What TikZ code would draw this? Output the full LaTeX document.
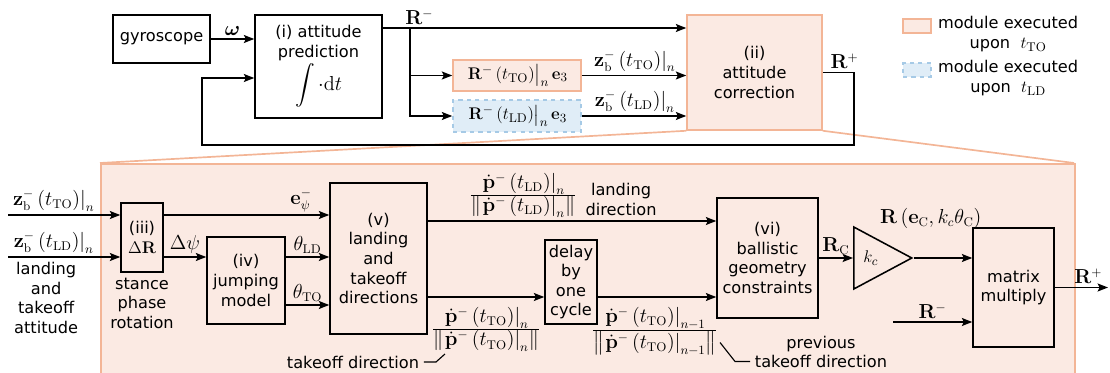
\documentclass[tikz,border=0pt]{standalone}
\usepackage{amsmath}
\usepackage{amssymb}
\usepackage[no-math]{fontspec}
\setmainfont{DejaVu Sans}
\usepackage{xcolor}
\usepackage{tikz}
\usetikzlibrary{arrows.meta,calc,positioning,shapes.geometric}

\definecolor{tofill}{HTML}{FBEAE3}
\definecolor{toline}{HTML}{F3B596}
\definecolor{ldfill}{HTML}{E0EDF7}
\definecolor{ldline}{HTML}{A6CAE6}

\newcommand{\evn}[2]{\left.#1\right|_{#2}}
\newcommand{\pdir}[2]{\frac{\textstyle\evn{\dot{\mathbf{p}}^{-}\left(t_{\mathrm{#1}}\right)}{#2}}{\textstyle\left\|\evn{\dot{\mathbf{p}}^{-}\left(t_{\mathrm{#1}}\right)}{#2}\right\|}}
\newcommand{\zbn}[1]{\evn{\mathbf{z}_{\mathrm{b}}^{-}\left(t_{\mathrm{#1}}\right)}{n}}

\begin{document}
\begin{tikzpicture}[
    x=0.025cm, y=-0.025cm,
    font=\fontsize{11.5}{13.9}\selectfont,
    blk/.style={draw, line width=1.1pt, align=center, inner sep=1pt},
    tobox/.style={draw=toline, fill=tofill, line width=1.1pt, align=center, inner sep=1pt},
    ldbox/.style={draw=ldline, fill=ldfill, dashed, line width=1.1pt, align=center, inner sep=1pt},
    gainst/.style={draw, line width=1.1pt, isosceles triangle, isosceles triangle stretches,
        shape border rotate=0, minimum width=62*0.025cm, minimum height=58*0.025cm, inner sep=0pt},
    arr/.style={-{Stealth[length=2.6mm,width=2mm,inset=0.5mm]}, line width=1pt},
    mlab/.style={font=\fontsize{13.5}{16}\selectfont, inner sep=2pt},
    zoomline/.style={draw=toline, line width=1.2pt},
    hook/.style={line width=0.8pt},
    wh/.style 2 args={minimum width=#1*0.025cm, minimum height=#2*0.025cm}
]
\useasboundingbox (0,0) rectangle (1110,373);

\node[blk, wh={97}{48}] (gyro) at (161.5,39) {gyroscope};
\node[blk, wh={127}{103}] (pred) at (318.5,66.5) {(i) attitude\\prediction\\[1pt]{\fontsize{14}{16}\selectfont$\displaystyle\int\cdot\mathrm{d}t$}};
\node[tobox, wh={128}{31}, font=\fontsize{12.6}{15}\selectfont] (boxTO) at (517,75.5) {$\evn{\mathbf{R}^{-}\left(t_{\mathrm{TO}}\right)}{n}\mathbf{e}_3$};
\node[ldbox, wh={128}{32}, font=\fontsize{12.6}{15}\selectfont] (boxLD) at (517,116) {$\evn{\mathbf{R}^{-}\left(t_{\mathrm{LD}}\right)}{n}\mathbf{e}_3$};
\node[tobox, wh={135}{115}] (corr) at (754.5,72.5) {(ii)\\attitude\\correction};

\node[tobox, wh={28}{14}] (legTO) at (917,26) {};
\node[ldbox, wh={28}{14}] (legLD) at (917,70) {};
\node[anchor=north west, align=center, inner sep=0pt] (legTOtxt) at ([xshift=0.15cm,yshift=0.05cm]legTO.north east) {module executed\\upon \ {\fontsize{13}{14}\selectfont$t_{\mathrm{TO}}$}};
\node[anchor=north west, align=center, inner sep=0pt] (legLDtxt) at ([xshift=0.15cm,yshift=0.05cm]legLD.north east) {module executed\\upon \ {\fontsize{13}{14}\selectfont$t_{\mathrm{LD}}$}};

\draw[zoomline] (corr.south west) -- (100,163);
\draw[zoomline] (corr.south east) -- (1074,163);
\node[tobox, anchor=north west, wh={974}{225}] (big) at (100,163) {};

\draw[arr] (gyro.east) -- (gyro.east -| pred.west) node[midway, above, mlab] {$\boldsymbol{\omega}$};
\coordinate (split) at (410,28);
\draw[arr] (pred.east |- split) -- (split -| corr.west) node[pos=0.12, above, mlab] {$\mathbf{R}^{-}$};
\draw[arr] (split) |- (boxTO.west);
\draw[arr] (split) |- (boxLD.west);
\draw[arr] (boxTO.east) -- (boxTO.east -| corr.west) node[midway, above, mlab] {$\zbn{TO}$};
\draw[arr] (boxLD.east) -- (boxLD.east -| corr.west) node[midway, above, mlab] {$\zbn{LD}$};
\coordinate (fbin) at (202,78);
\draw[arr] (corr.east) -| (854,145) node[pos=0.35, above, mlab] {$\mathbf{R}^{+}$} -| (fbin) -- (fbin -| pred.west);

\node[blk, wh={42}{69}] (dR) at (142,237.5) {(iii)\\{\fontsize{12.5}{15}\selectfont$\Delta\mathbf{R}$}};
\node[align=center, below=0pt of dR] (dRtxt) {stance\\phase\\rotation};
\node[blk, wh={78}{87}] (jump) at (246,280.5) {(iv)\\jumping\\model};
\node[blk, wh={97}{151}] (dirs) at (378.5,258.5) {(v)\\landing\\and\\takeoff\\directions};
\node[blk, wh={52}{84}] (delay) at (571,282) {delay\\by\\one\\cycle};
\node[blk, wh={101}{120}] (ball) at (767.5,258) {(vi)\\ballistic\\geometry\\constraints};
\node[gainst, anchor=lower side, font=\fontsize{13}{15}\selectfont] (gain) at (853,258) {$k_c$};
\node[blk, wh={81}{119}] (mm) at (1013.5,287.5) {matrix\\multiply};

\coordinate (inTO) at (8,215);
\coordinate (inLD) at (8,257);
\draw[arr] (inTO) -- (inTO -| dR.west) node[pos=0.4, above, mlab] {$\zbn{TO}$};
\draw[arr] (inLD) -- (inLD -| dR.west) node[pos=0.4, above, mlab] {$\zbn{LD}$}
    node[pos=0.34, below, align=center] {landing\\and\\takeoff\\attitude};
\draw[arr] (dR.east |- inTO) -- (inTO -| dirs.west) node[pos=0.83, above, mlab] {$\mathbf{e}_{\psi}^{-}$};
\draw[arr] (dR.east |- inLD) -- (inLD -| jump.west) node[midway, above, mlab] {$\Delta\psi$};
\draw[arr] (jump.east |- inLD) -- (inLD -| dirs.west) node[midway, above, mlab] {$\theta_{\mathrm{LD}}$};
\coordinate (thTO) at (0,305);
\draw[arr] (jump.east |- thTO) -- (thTO -| dirs.west) node[midway, above, mlab] {$\theta_{\mathrm{TO}}$};

\coordinate (yLD) at (0,221);
\coordinate (yTO) at (0,297);
\draw[arr] (dirs.east |- yLD) -- (yLD -| ball.west)
    node[pos=0.33, above, mlab] (fracLD) {$\pdir{LD}{n}$}
    node[pos=0.67, above, align=center] (lddir) {landing\\direction};
\draw[arr] (dirs.east |- yTO) -- (yTO -| delay.west) node[pos=0.5, below=5pt, mlab] (fracTO) {$\pdir{TO}{n}$};
\draw[arr] (delay.east |- yTO) -- (yTO -| ball.west) node[pos=0.48, below=5pt, mlab] (fracPrev) {$\pdir{TO}{n-1}$};
\node (todir) at (353,362) {takeoff direction};
\draw[hook] (todir.east) -- ++(12,0) -- ++(9,-8);
\node[align=center] (prevdir) at (821,352) {previous\\takeoff direction};
\draw[hook] ($(prevdir.west)+(0,9.5)$) -- ++(-15,0) -- ++(-15,-19);

\draw[arr] (ball.east) -- (gain.lower side) node[midway, above, mlab] {$\mathbf{R}_{\mathrm{C}}$};
\draw[arr] (gain.apex) -- (gain.apex -| mm.west) node[pos=0.29, above=0.65cm, mlab] {$\mathbf{R}\left(\mathbf{e}_{\mathrm{C}}, k_c\theta_{\mathrm{C}}\right)$};
\coordinate (rmin) at (893,322);
\draw[arr] (rmin) -- (rmin -| mm.west) node[midway, above, mlab] {$\mathbf{R}^{-}$};
\coordinate (rout) at (1108,287.5);
\draw[arr] (mm.east) -- (rout) node[pos=0.63, above, mlab] {$\mathbf{R}^{+}$};
\end{tikzpicture}
\end{document}
